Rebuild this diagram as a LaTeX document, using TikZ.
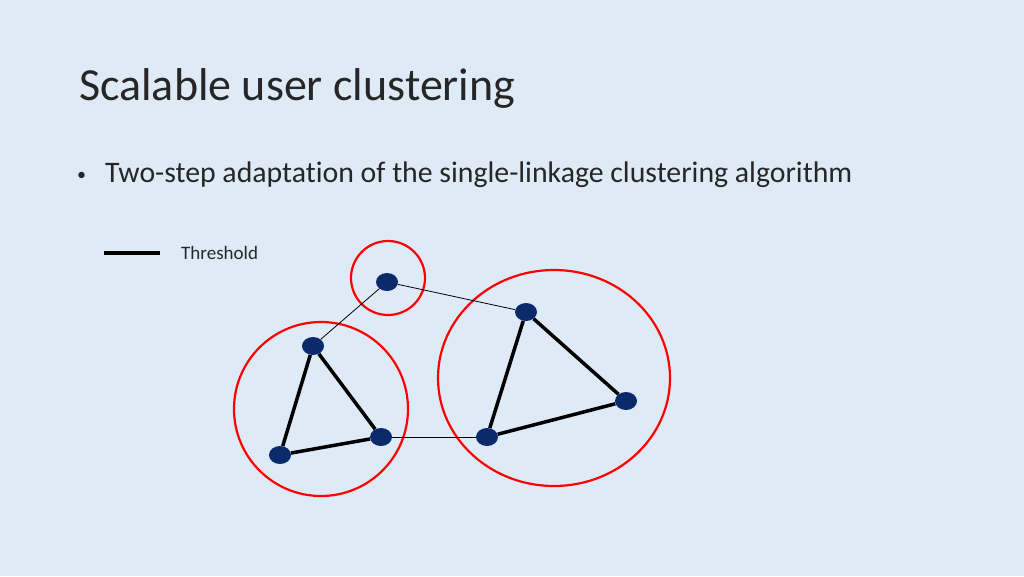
\documentclass[tikz,border=0pt]{standalone}
\usepackage{fontspec}
\setmainfont{Carlito}
\usetikzlibrary{shapes.geometric}
\begin{document}
\begin{tikzpicture}[x=1pt,y=-1pt,
  vtx/.style={ellipse,fill=navy,minimum width=22pt,minimum height=18pt,inner sep=0pt},
  thick edge/.style={line width=3.5pt},
  thin edge/.style={line width=0.8pt},
  grp/.style={draw=red,line width=2.2pt}]
\definecolor{bg}{HTML}{DEEBF7}
\definecolor{navy}{HTML}{0B2A6B}
\definecolor{txt}{HTML}{262626}
\fill[bg] (0,0) rectangle (1024,576);
\useasboundingbox (0,0) rectangle (1024,576);
\node[anchor=base west,text=txt,font=\fontsize{46}{54}\selectfont,inner sep=0pt] (title) at (79,100) {Scalable user clustering};
\node[anchor=base west,text=txt,font=\fontsize{18}{22}\selectfont,inner sep=0pt] (bul) at (77,180) {•};
\node[anchor=base west,text=txt,font=\fontsize{29.8}{35}\selectfont,inner sep=0pt] (b1) at (105,182) {Two-step adaptat\kern0pt ion of the single-linkage clustering algorithm};
\coordinate (l1) at (104,253); \coordinate (l2) at (160,253);
\draw[thick edge] (l1) -- (l2);
\node[anchor=west,text=txt,font=\fontsize{19}{22}\selectfont,inner sep=0pt] (thr) at (181,253) {Threshold};
\node[grp,circle,minimum size=74pt] (g1) at (388,278) {};
\node[grp,circle,minimum size=174pt] (g2) at (321,409) {};
\node[grp,ellipse,minimum width=232pt,minimum height=216pt] (g3) at (554,378) {};
\node[vtx] (a) at (387,282) {};
\node[vtx] (b) at (526,312) {};
\node[vtx] (c) at (313,346) {};
\node[vtx] (d) at (626,401) {};
\node[vtx] (e) at (280,455) {};
\node[vtx] (f) at (381,437) {};
\node[vtx] (g) at (487,437) {};
\draw[thin edge] (a) -- (c);
\draw[thin edge] (a) -- (b);
\draw[thin edge] (f) -- (g);
\draw[thick edge] (c) -- (e);
\draw[thick edge] (c) -- (f);
\draw[thick edge] (e) -- (f);
\draw[thick edge] (b) -- (g);
\draw[thick edge] (b) -- (d);
\draw[thick edge] (g) -- (d);
\end{tikzpicture}
\end{document}
